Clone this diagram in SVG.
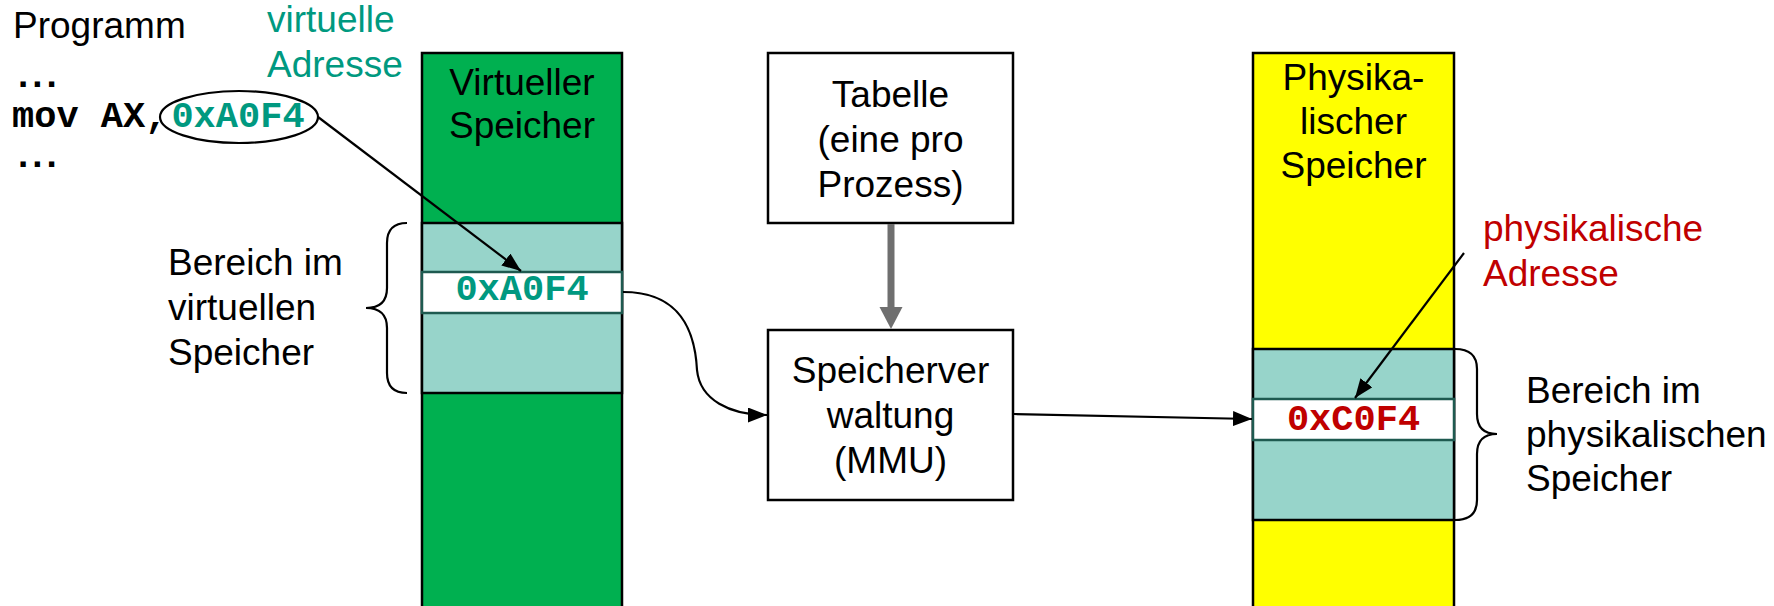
<svg xmlns="http://www.w3.org/2000/svg" width="1774" height="606" viewBox="0 0 1774 606">
<style>
.t{font-family:"Liberation Sans",Arial,sans-serif;font-size:37px;fill:#000}
.m{font-family:"Liberation Mono","Courier New",monospace;font-size:37px;font-weight:bold}
.teal{fill:#009980}
.red{fill:#C00000}
.box{fill:#fff;stroke:#000;stroke-width:2.5}
.reg{fill:#97D4CA;stroke:#000;stroke-width:2.5}
.cell{fill:#fff;stroke:#1E5A50;stroke-width:2.5}
.ln{fill:none;stroke:#000;stroke-width:2.2}
</style>
<defs>
<marker id="ah" viewBox="0 0 10 10" refX="10" refY="5" markerWidth="19" markerHeight="15" markerUnits="userSpaceOnUse" orient="auto" preserveAspectRatio="none">
<path d="M0,0 L10,5 L0,10 z" fill="#000"/>
</marker>
</defs>
<rect width="1774" height="606" fill="#fff"/>

<g id="program">
<text class="t" x="13" y="38">Programm</text>
<text class="m" x="12" y="87" letter-spacing="-8">...</text>
<text class="m" x="12" y="127" fill="#000">mov AX,</text>
<text class="m teal" x="238" y="127" text-anchor="middle">0xA0F4</text>
<text class="m" x="12" y="167" letter-spacing="-8">...</text>
<ellipse cx="239" cy="117" rx="79" ry="26" class="ln"/>
</g>

<g id="label-virtuelle-adresse">
<text class="t teal" x="267" y="32">virtuelle</text>
<text class="t teal" x="267" y="77">Adresse</text>
</g>

<g id="virtueller-speicher">
<rect x="422" y="53" width="200" height="570" fill="#00B050" stroke="#000" stroke-width="2.5"/>
<text class="t" x="522" y="95" text-anchor="middle">Virtueller</text>
<text class="t" x="522" y="138" text-anchor="middle">Speicher</text>
<rect x="422" y="223" width="200" height="170" class="reg"/>
<rect x="422" y="272" width="200" height="41" class="cell"/>
<text class="m teal" x="522" y="300" text-anchor="middle">0xA0F4</text>
</g>

<g id="bereich-virtuell">
<path d="M407,223 Q387,223 387,243 L387,288 Q387,308 366,308 Q387,308 387,328 L387,373 Q387,393 407,393" class="ln"/>
<text class="t" x="168" y="275">Bereich im</text>
<text class="t" x="168" y="320">virtuellen</text>
<text class="t" x="168" y="365">Speicher</text>
</g>

<g id="tabelle">
<rect x="768" y="53" width="245" height="170" class="box"/>
<text class="t" x="890.5" y="107" text-anchor="middle">Tabelle</text>
<text class="t" x="890.5" y="152" text-anchor="middle">(eine pro</text>
<text class="t" x="890.5" y="197" text-anchor="middle">Prozess)</text>
</g>

<g id="mmu">
<rect x="768" y="330" width="245" height="170" class="box"/>
<text class="t" x="890.5" y="383" text-anchor="middle">Speicherver</text>
<text class="t" x="890.5" y="428" text-anchor="middle">waltung</text>
<text class="t" x="890.5" y="473" text-anchor="middle">(MMU)</text>
</g>

<g id="physikalischer-speicher">
<rect x="1253" y="53" width="201" height="570" fill="#FFFF00" stroke="#000" stroke-width="2.5"/>
<text class="t" x="1353.5" y="90" text-anchor="middle">Physika-</text>
<text class="t" x="1353.5" y="134" text-anchor="middle">lischer</text>
<text class="t" x="1353.5" y="178" text-anchor="middle">Speicher</text>
<rect x="1253" y="349" width="201" height="171" class="reg"/>
<rect x="1253" y="399" width="201" height="41" class="cell"/>
<text class="m red" x="1353.5" y="430" text-anchor="middle">0xC0F4</text>
</g>

<g id="label-physikalische-adresse">
<text class="t red" x="1483" y="241">physikalische</text>
<text class="t red" x="1483" y="286">Adresse</text>
</g>

<g id="bereich-physikalisch">
<path d="M1455,349 Q1477,349 1477,369 L1477,414 Q1477,434 1497,434 Q1477,434 1477,454 L1477,500 Q1477,520 1455,520" class="ln"/>
<text class="t" x="1526" y="403">Bereich im</text>
<text class="t" x="1526" y="447">physikalischen</text>
<text class="t" x="1526" y="491">Speicher</text>
</g>

<g id="connectors">
<line x1="318" y1="117" x2="521" y2="271" class="ln" marker-end="url(#ah)"/>
<path d="M623,292 C680,292 695,330 697,370 C700,400 730,415 767,415" class="ln" marker-end="url(#ah)"/>
<line x1="891" y1="224" x2="891" y2="308" stroke="#6F6F6F" stroke-width="7"/>
<path d="M879.5,307 L902.5,307 L891,329 z" fill="#6F6F6F"/>
<line x1="1014" y1="414" x2="1252" y2="419" class="ln" marker-end="url(#ah)"/>
<line x1="1464" y1="253" x2="1355" y2="398" class="ln" marker-end="url(#ah)"/>
</g>
</svg>
